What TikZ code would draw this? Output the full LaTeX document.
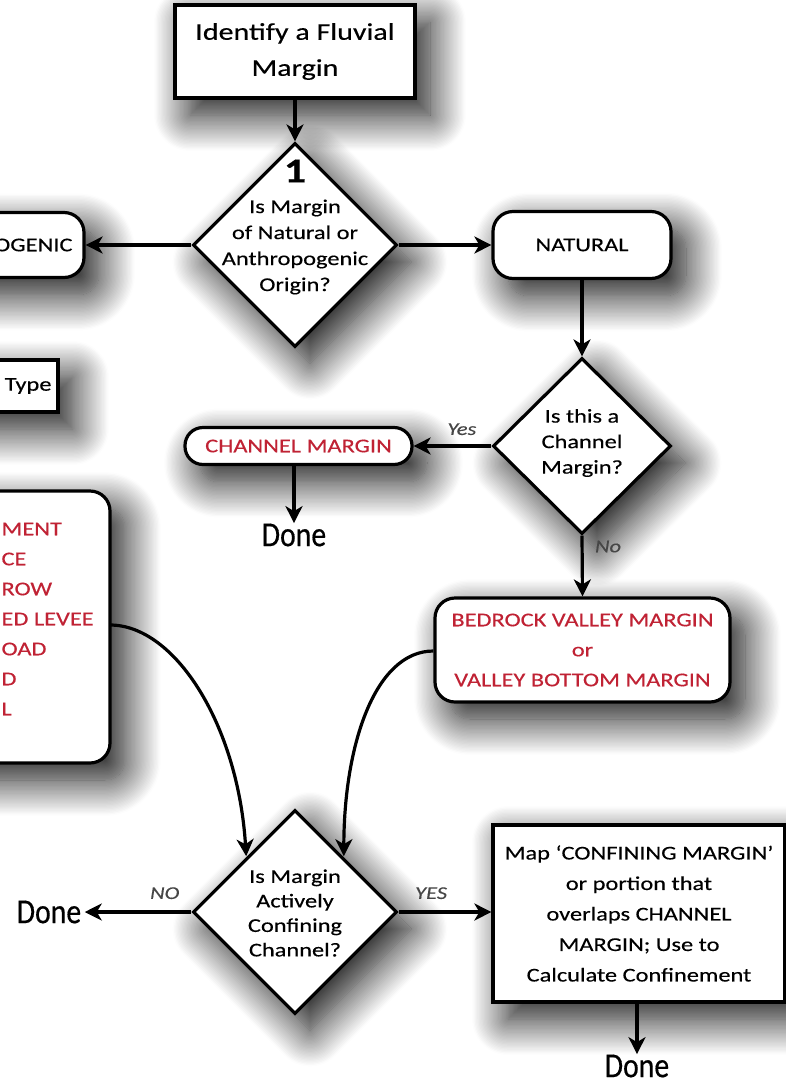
\documentclass[tikz,border=0pt]{standalone}
\usepackage{fontspec}
\setmainfont{Carlito}[FakeStretch=1.25,FakeBold=0.35]
\newfontfamily\donefont{Carlito}[FakeStretch=0.85,FakeBold=0.4]
\usetikzlibrary{shapes.geometric,arrows.meta,shadows.blur,calc}
\definecolor{marginred}{RGB}{192,34,52}
\definecolor{labelgray}{RGB}{70,70,70}
\tikzset{
  softshadow/.style={blur shadow={shadow xshift=15pt,shadow yshift=-17pt,
      shadow blur radius=36pt,shadow blur steps=28,shadow opacity=95}},
  boxline/.style={draw=black,line width=3.2pt,fill=white,inner sep=0pt,softshadow},
  sqbox/.style={boxline,rectangle,align=center},
  rndbox/.style={boxline,rectangle,rounded corners=20pt,align=center},
  decision/.style={boxline,diamond,aspect=1},
  qtext/.style={align=center,font=\fontsize{19.5}{25.5}\selectfont},
  redtext/.style={text=marginred},
  flow/.style={line width=3.2pt,-{Stealth[length=17pt,width=17pt,inset=5pt]}},
  answer/.style={text=labelgray,font=\itshape\fontsize{18}{18}\selectfont},
  donetext/.style={font=\donefont\fontsize{35}{35}\selectfont},
}
\begin{document}
\begin{tikzpicture}[x=1pt,y=-1pt]
\useasboundingbox (0,0) rectangle (786,1088);
\clip (0,0) rectangle (786,1088);

% start
\node[sqbox,minimum width=240pt,minimum height=93pt,
      font=\fontsize{24}{36}\selectfont] (start) at (295,51.5)
      {Identify a Fluvial\\Margin};

% decision 1
\node[decision,minimum width=204pt,minimum height=204pt] (dq1) at (295,245) {};
\node[font=\bfseries\fontsize{35}{35}\selectfont] (num1) at (295,171) {1};
\node[qtext,font=\fontsize{19.5}{26}\selectfont] (dq1t) at (295,247)
      {Is Margin\\of Natural or\\Anthropogenic\\Origin?};

% anthropogenic branch (left, partly outside)
\node[rndbox,minimum width=200pt,minimum height=65pt] (anth) at (-16,245) {};
\node[anchor=east,font=\fontsize{19.5}{24}\selectfont] (antht) at (76,245) {OGENIC};

\node[sqbox,minimum width=150pt,minimum height=52pt] (typebox) at (-17,386) {};
\node[anchor=east,font=\fontsize{19.5}{24}\selectfont] (typet) at (55,386) {Type};

\node[rndbox,minimum width=300pt,minimum height=272pt] (list) at (-40,627) {};
\node[anchor=west,align=left,redtext,font=\fontsize{19.5}{30}\selectfont] (listt) at (-2,619)
      {MENT\\CE\\ROW\\ED LEVEE\\OAD\\D\\L};

% natural branch
\node[rndbox,minimum width=178pt,minimum height=67pt,
      font=\fontsize{19.5}{24}\selectfont] (nat) at (582,245) {NATURAL};

\node[decision,minimum width=178pt,minimum height=176pt] (dq2) at (582,446) {};
\node[qtext] (dq2t) at (582,443) {Is this a\\Channel\\Margin?};

\node[rndbox,rounded corners=18pt,minimum width=227pt,minimum height=37pt,redtext,
      font=\fontsize{19.5}{24}\selectfont] (chan) at (298.5,446) {CHANNEL MARGIN};
\node[donetext] (done1) at (294,535) {Done};

\node[rndbox,minimum width=295pt,minimum height=104pt,redtext,
      font=\fontsize{19.5}{30}\selectfont] (bed) at (582.5,650)
      {BEDROCK VALLEY MARGIN\\or\\VALLEY BOTTOM MARGIN};

% decision 3
\node[decision,minimum width=204pt,minimum height=204pt] (dq3) at (295,912) {};
\node[qtext,font=\fontsize{19.5}{24.5}\selectfont] (dq3t) at (295,913)
      {Is Margin\\Actively\\Confining\\Channel?};

\node[donetext] (done2) at (49,912) {Done};

\node[sqbox,minimum width=292pt,minimum height=177pt,
      font=\fontsize{19.5}{30.5}\selectfont] (mapbox) at (639,913.5)
      {Map `CONFINING MARGIN'\\or portion that\\overlaps CHANNEL\\MARGIN; Use to\\Calculate Confinement};
\node[donetext] (done3) at (637,1066) {Done};

% connectors
\draw[flow] (start.south) -- (dq1.north);
\draw[flow] (dq1.west) -- (anth.east);
\draw[flow] (dq1.east) -- (nat.west);
\draw[flow] (nat.south) -- (dq2.north);
\draw[flow] (dq2.west) -- node[answer,above,pos=0.38,yshift=6pt] (yes1) {Yes} (chan.east);
\draw[flow] (dq2.south) -- node[answer,right,pos=0.18,xshift=8pt] (no1) {No} (bed.north);
\draw[flow] (chan.south -| done1.north) -- ([yshift=-3pt]done1.north);

\coordinate (listout) at (110,625);
\coordinate (bedout) at (433,651);
\coordinate (in3l) at ($(dq3.north west)+(3,-4)$);
\coordinate (in3r) at ($(dq3.north east)+(-3,-4)$);
\draw[flow] (listout) .. controls (175,625) and (238,725) .. (in3l);
\draw[flow] (bed.west |- bedout) .. controls (375,651) and (344,745) .. (in3r);

\draw[flow] (dq3.west) -- node[answer,above,pos=0.25,yshift=8pt] (no2) {NO} (done2.east |- dq3.west);
\draw[flow] (dq3.east) -- node[answer,above,pos=0.35,yshift=8pt] (yes2) {YES} (mapbox.west |- dq3.east);
\draw[flow] (mapbox.south -| done3.north) -- ([yshift=-3pt]done3.north);
\end{tikzpicture}
\end{document}
